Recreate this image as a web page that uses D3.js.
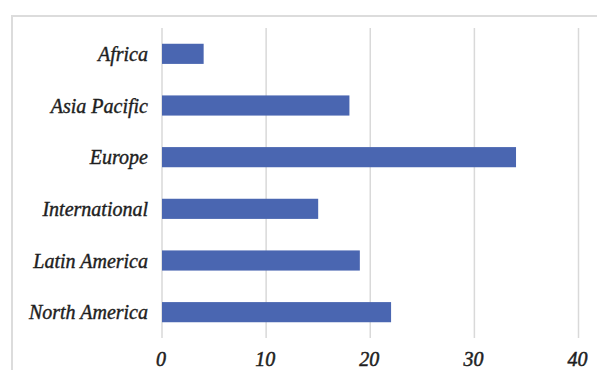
<!DOCTYPE html>
<html>
<head>
<meta charset="utf-8">
<script src="https://cdn.jsdelivr.net/npm/d3@7"></script>
<style>
  html, body { margin: 0; padding: 0; background: #fff; }
  svg { display: block; }
</style>
</head>
<body>
<script>
const regions = ["Africa", "Asia Pacific", "Europe", "International", "Latin America", "North America"];
const counts = [4, 18, 34, 15, 19, 22];
const xTicks = [0, 10, 20, 30, 40];

const width = 597, height = 370;
const margin = {top: 28, right: 18.5, bottom: 32, left: 162};

const svg = d3.select("body")
    .append("svg")
    .attr("width", width)
    .attr("height", height);

// outer chart frame (cut off at right and bottom)
svg.append("path")
    .attr("d", `M12,${height + 5}V16H${width + 5}`)
    .attr("fill", "none")
    .attr("stroke", "#dcdcdc")
    .attr("stroke-width", 2);

const x = d3.scaleLinear()
    .domain([0, 40])
    .range([margin.left, width - margin.right]);

const y = d3.scaleBand()
    .domain(regions)
    .range([margin.top, height - margin.bottom])
    .paddingInner(0.61)
    .paddingOuter(0.305);

// vertical grid
svg.append("g")
    .selectAll("line")
    .data(xTicks)
    .join("line")
    .attr("x1", d => x(d))
    .attr("x2", d => x(d))
    .attr("y1", margin.top)
    .attr("y2", height - margin.bottom)
    .attr("stroke", "#d9d9d9")
    .attr("stroke-width", 1.5);

svg.append("g")
    .selectAll("rect")
    .data(regions)
    .join("rect")
    .attr("x", x(0))
    .attr("y", d => y(d))
    .attr("width", (d, i) => x(counts[i]) - x(0))
    .attr("height", y.bandwidth())
    .attr("fill", "#4a66b1");

const font = "italic 20px 'Liberation Serif', 'DejaVu Serif', serif";

// slight stroke to mimic the heavier italic of the original
svg.append("g")
    .style("font", font)
    .attr("fill", "#1e1e1e")
    .attr("stroke", "#1e1e1e")
    .attr("stroke-width", 0.4)
    .selectAll("text")
    .data(regions)
    .join("text")
    .attr("x", margin.left - 14)
    .attr("y", d => y(d) + y.bandwidth() / 2)
    .attr("dy", "0.35em")
    .attr("text-anchor", "end")
    .text(d => d);

svg.append("g")
    .style("font", font)
    .attr("fill", "#1e1e1e")
    .attr("stroke", "#1e1e1e")
    .attr("stroke-width", 0.5)
    .selectAll("text")
    .data(xTicks)
    .join("text")
    .attr("x", d => x(d) - 1)
    .attr("y", height - margin.bottom + 21)
    .attr("dy", "0.35em")
    .attr("text-anchor", "middle")
    .text(d => d);
</script>
</body>
</html>
